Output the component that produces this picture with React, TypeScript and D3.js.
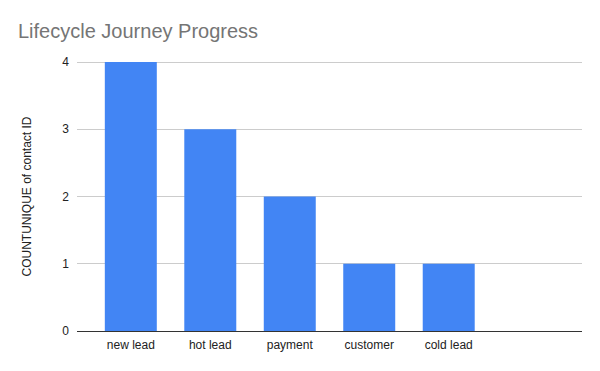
import React, { useEffect, useRef } from 'react';
import * as d3 from 'd3';

const categories = ['new lead', 'hot lead', 'payment', 'customer', 'cold lead', ''];
const values: (number | null)[] = [4, 3, 2, 1, 1, null];
const yTicks = [0, 1, 2, 3, 4];

const W = 600;
const H = 371;
const margin = { top: 62, right: 18, bottom: 40, left: 77 };
const font = 'Arial, "Liberation Sans", sans-serif';

const App: React.FC = () => {
  const svgRef = useRef<SVGSVGElement>(null);

  useEffect(() => {
    if (!svgRef.current) return;
    const svg = d3.select(svgRef.current);
    svg.selectAll('*').remove();

    const innerW = W - margin.left - margin.right;
    const innerH = H - margin.top - margin.bottom;

    svg.append('rect').attr('width', W).attr('height', H).attr('fill', '#fff');

    const x = d3.scaleBand<string>()
      .domain(categories.map((c, i) => c || `__blank${i}`))
      .range([0, innerW])
      .paddingInner(0.346)
      .paddingOuter(0.35);
    const y = d3.scaleLinear().domain([0, 4]).range([innerH, 0]);

    const g = svg.append('g').attr('transform', `translate(${margin.left},${margin.top})`);

    // gridlines
    g.append('g')
      .selectAll('line')
      .data(yTicks.filter(t => t !== 0))
      .join('line')
      .attr('x1', 0).attr('x2', innerW)
      .attr('y1', d => y(d)).attr('y2', d => y(d))
      .attr('stroke', '#cccccc').attr('stroke-width', 1)
      .attr('shape-rendering', 'crispEdges');

    // y tick labels
    g.append('g')
      .selectAll('text')
      .data(yTicks)
      .join('text')
      .attr('x', -8)
      .attr('y', d => y(d))
      .attr('dy', '0.35em')
      .attr('text-anchor', 'end')
      .attr('font-family', font)
      .attr('font-size', 12)
      .attr('fill', '#222')
      .text(d => d);

    // bars
    const keys = x.domain();
    g.append('g')
      .selectAll('rect')
      .data(values.map((v, i) => ({ key: keys[i], v })).filter(d => d.v != null))
      .join('rect')
      .attr('x', d => x(d.key)!)
      .attr('y', d => y(d.v as number))
      .attr('width', x.bandwidth())
      .attr('height', d => innerH - y(d.v as number))
      .attr('fill', '#4285f4');

    // baseline
    g.append('line')
      .attr('x1', 0).attr('x2', innerW)
      .attr('y1', innerH).attr('y2', innerH)
      .attr('stroke', '#333').attr('stroke-width', 1)
      .attr('shape-rendering', 'crispEdges');

    // x labels
    g.append('g')
      .selectAll('text')
      .data(categories.map((c, i) => ({ key: keys[i], c })))
      .join('text')
      .attr('x', d => x(d.key)! + x.bandwidth() / 2)
      .attr('y', innerH + 18)
      .attr('text-anchor', 'middle')
      .attr('font-family', font)
      .attr('font-size', 12)
      .attr('fill', '#222')
      .text(d => d.c);

    // y axis title
    svg.append('text')
      .attr('transform', `translate(31,${margin.top + innerH / 2}) rotate(-90)`)
      .attr('text-anchor', 'middle')
      .attr('font-family', font)
      .attr('font-size', 12)
      .attr('fill', '#222')
      .text('COUNTUNIQUE of contact ID');

    // title
    svg.append('text')
      .attr('x', 18).attr('y', 38)
      .attr('font-family', font)
      .attr('font-size', 20)
      .attr('fill', '#757575')
      .text('Lifecycle Journey Progress');
  }, []);

  return (
    <svg ref={svgRef} width={W} height={H} style={{ display: 'block', position: 'absolute', left: 0, top: 0 }} />
  );
};

export default App;
